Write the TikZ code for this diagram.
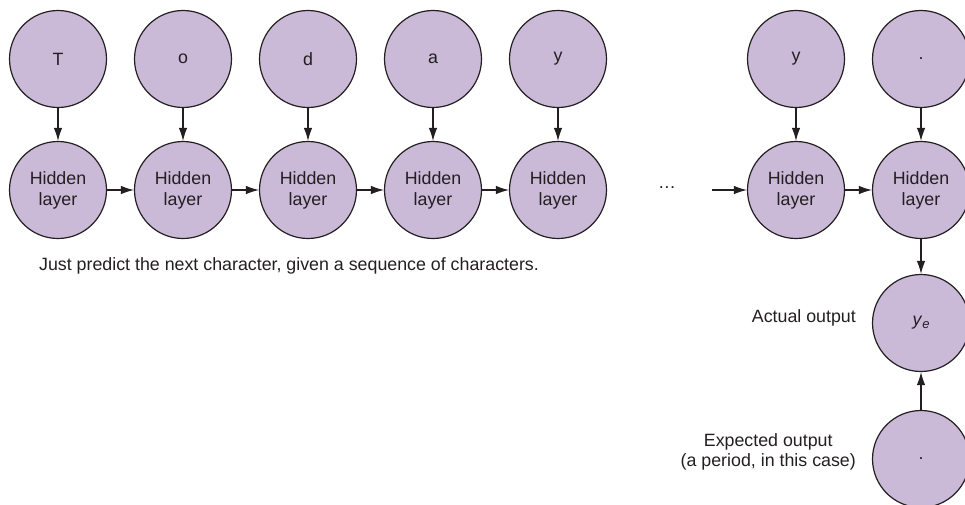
\documentclass[tikz,border=0pt]{standalone}
\usepackage{fontspec}
\setmainfont{Liberation Sans}
\usetikzlibrary{arrows.meta}
\definecolor{nodefill}{RGB}{203,185,216}
\definecolor{ink}{RGB}{35,31,32}
\newcommand{\yesub}{\textit{y}\raisebox{-0.3ex}{\fontsize{13}{13}\selectfont\textit{e}}}
\begin{document}
\begin{tikzpicture}[x=1pt,y=-1pt,
  circ/.style={circle,draw=ink,line width=1.2pt,fill=nodefill,minimum size=97pt,inner sep=0pt,
    font=\fontsize{17.8}{21}\selectfont,align=center,text=ink},
  conn/.style={draw=ink,line width=1.1pt,-{Latex[length=13pt,width=8.5pt]}},
  lbl/.style={font=\fontsize{17.8}{20}\selectfont,text=ink,align=center,inner sep=0pt}]
\useasboundingbox (0,0) rectangle (965,504);
% top row
\node[circ] (t1) at (58,59) {T};
\node[circ] (t2) at (183,59) {o};
\node[circ] (t3) at (308,59) {d};
\node[circ] (t4) at (433,59) {a};
\node[circ] (t5) at (558,59) {y};
\node[circ] (t6) at (796,59) {y};
\node[circ] (t7) at (921,59) {.};
% hidden row
\node[circ] (h1) at (58,190) {Hidden\\layer};
\node[circ] (h2) at (183,190) {Hidden\\layer};
\node[circ] (h3) at (308,190) {Hidden\\layer};
\node[circ] (h4) at (433,190) {Hidden\\layer};
\node[circ] (h5) at (558,190) {Hidden\\layer};
\node[circ] (h6) at (796,190) {Hidden\\layer};
\node[circ] (h7) at (921,190) {Hidden\\layer};
% outputs
\node[circ] (ye) at (921,323) {\yesub};
\node[circ] (ex) at (921,459) {.};
% vertical arrows
\foreach \i in {1,...,7} \draw[conn] (t\i) -- (h\i);
% horizontal arrows
\draw[conn] (h1) -- (h2);
\draw[conn] (h2) -- (h3);
\draw[conn] (h3) -- (h4);
\draw[conn] (h4) -- (h5);
\draw[conn] (h6) -- (h7);
\node[lbl] (dots) at (667,188) {\dots};
\coordinate (cin) at (712,190);
\draw[conn] (cin) -- (h6);
\draw[conn] (h7) -- (ye);
\draw[conn] (ex) -- (ye);
% labels
\node[lbl] (cap) at (289,266) {Just predict the next character, given a sequence of characters.};
\node[lbl,anchor=east] (act) at (856,318) {Actual output};
\node[lbl,anchor=east] (exp) at (856,452) {Expected output\\(a period, in this case)};
\end{tikzpicture}
\end{document}
